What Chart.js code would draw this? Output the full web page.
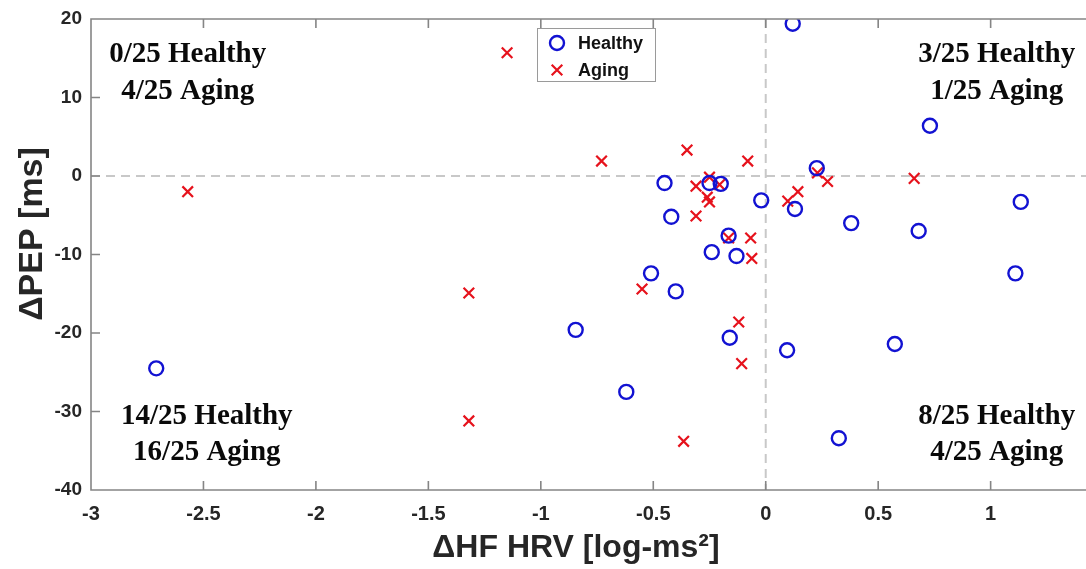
<!DOCTYPE html>
<html>
<head>
<meta charset="utf-8">
<script src="https://cdn.jsdelivr.net/npm/chart.js@4/dist/chart.umd.min.js"></script>
<style>
  html, body { margin: 0; padding: 0; background: #fff; overflow: hidden; }
  canvas { display: block; }
</style>
</head>
<body>
<canvas id="c" width="1086" height="569"></canvas>
<script>
// Change in HF HRV (log-ms²) vs change in PEP (ms) per participant
const healthyX = [0.12, 0.73, 0.227, -0.45, -0.25, -0.20, -0.02, -0.42, -0.165, -0.24, -0.13, -0.51, -0.40,
                  -0.16, 0.095, -0.845, -0.62, -2.71, 0.13, 0.38, 0.68, 1.134, 1.11, 0.574, 0.325];
const healthyY = [19.4, 6.4, 1.0, -0.9, -0.9, -1.0, -3.1, -5.2, -7.6, -9.7, -10.2, -12.4, -14.7,
                  -20.6, -22.2, -19.6, -27.5, -24.5, -4.2, -6.0, -7.0, -3.3, -12.4, -21.4, -33.4];
const agingX = [-1.15, -0.73, -0.35, -0.08, -0.25, -0.31, -0.205, -0.26, -0.25, -0.31, -0.165, -0.067, -0.062,
                -0.55, -0.12, -0.107, -1.32, -1.32, -0.365, -2.57, 0.098, 0.143, 0.23, 0.275, 0.66];
const agingY = [15.7, 1.9, 3.3, 1.9, -0.15, -1.3, -1.1, -2.7, -3.3, -5.1, -7.9, -7.9, -10.5,
                -14.4, -18.6, -23.9, -14.9, -31.2, -33.8, -2.0, -3.2, -2.0, 0.4, -0.7, -0.3];

const seriesNames = ['Healthy', 'Aging'];
const xTickValues = [-3, -2.5, -2, -1.5, -1, -0.5, 0, 0.5, 1];
const yTickValues = [-40, -30, -20, -10, 0, 10, 20];
const xTitle = 'ΔHF HRV [log-ms²]';
const yTitle = 'ΔPEP [ms]';

// Quadrant counts: [line 1, line 2]
const quadrantText = [
  ['0/25 Healthy', '4/25 Aging'],
  ['3/25 Healthy', '1/25 Aging'],
  ['14/25 Healthy', '16/25 Aging'],
  ['8/25 Healthy', '4/25 Aging']
];
// where each quadrant label sits, in axis units: [x centre, y of line 1, y of line 2]
const quadrantAnchor = [
  [-2.57, 15.5, 10.8],
  [1.027, 15.5, 10.8],
  [-2.485, -30.6, -35.2],
  [1.027, -30.6, -35.2]
];

const BLUE = '#1212d2';
const RED = '#e6121c';
const AXIS = '#858585';
const SANS = '"Liberation Sans", Arial, sans-serif';
const SERIF = '"Liberation Serif", "Times New Roman", serif';

const toPoints = (xs, ys) => xs.map((v, i) => ({ x: v, y: ys[i] }));

function markPath(ctx, style, r, cx, cy) {
  ctx.beginPath();
  if (style === 'circle') {
    ctx.arc(cx, cy, r, 0, Math.PI * 2);
  } else {
    const d = r * Math.SQRT1_2;
    ctx.moveTo(cx - d, cy - d); ctx.lineTo(cx + d, cy + d);
    ctx.moveTo(cx - d, cy + d); ctx.lineTo(cx + d, cy - d);
  }
}

const decorations = {
  id: 'decorations',
  beforeDatasetsDraw(chart) {
    const { ctx, chartArea: a, scales: { x, y } } = chart;
    const x0 = x.getPixelForValue(0);
    const y0 = y.getPixelForValue(0);
    ctx.save();
    ctx.strokeStyle = '#c8c8c8';
    ctx.lineWidth = 2;
    ctx.setLineDash([9, 6]);
    ctx.beginPath();
    ctx.moveTo(x0, a.top); ctx.lineTo(x0, a.bottom);
    ctx.moveTo(a.left, y0); ctx.lineTo(a.right, y0);
    ctx.stroke();
    ctx.restore();
  },
  afterDatasetsDraw(chart) {
    const { ctx, chartArea: a, scales: { x, y } } = chart;
    ctx.save();

    // axis box (left, top, bottom) with inward ticks
    ctx.strokeStyle = AXIS;
    ctx.lineWidth = 1.6;
    ctx.beginPath();
    ctx.moveTo(a.right + 2, a.top); ctx.lineTo(a.left, a.top);
    ctx.lineTo(a.left, a.bottom); ctx.lineTo(a.right + 2, a.bottom);
    const tl = 9;
    x.ticks.forEach(t => {
      const px = x.getPixelForValue(t.value);
      ctx.moveTo(px, a.bottom); ctx.lineTo(px, a.bottom - tl);
      ctx.moveTo(px, a.top); ctx.lineTo(px, a.top + tl);
    });
    y.ticks.forEach(t => {
      const py = y.getPixelForValue(t.value);
      ctx.moveTo(a.left, py); ctx.lineTo(a.left + tl, py);
    });
    ctx.stroke();

    // axis titles
    ctx.fillStyle = '#262626';
    ctx.font = 'bold 32px ' + SANS;
    ctx.textAlign = 'center';
    ctx.textBaseline = 'alphabetic';
    ctx.fillText(xTitle, 576, 557);
    ctx.save();
    ctx.translate(42, 234);
    ctx.rotate(-Math.PI / 2);
    ctx.font = 'bold 34px ' + SANS;
    ctx.fillText(yTitle, 0, 0);
    ctx.restore();

    // quadrant counts
    ctx.fillStyle = '#0a0a0a';
    ctx.font = 'bold 29px ' + SERIF;
    ctx.textAlign = 'center';
    ctx.textBaseline = 'middle';
    quadrantText.forEach((lines, i) => {
      const [ax, ay1, ay2] = quadrantAnchor[i];
      const px = x.getPixelForValue(ax);
      ctx.fillText(lines[0], px, y.getPixelForValue(ay1));
      ctx.fillText(lines[1], px, y.getPixelForValue(ay2));
    });

    // legend
    const lx = 537, ly = 28, lw = 118, lh = 53;
    ctx.fillStyle = '#fff';
    ctx.fillRect(lx, ly, lw, lh);
    ctx.strokeStyle = '#9a9a9a';
    ctx.lineWidth = 1;
    ctx.strokeRect(lx + 0.5, ly + 0.5, lw, lh);
    chart.data.datasets.forEach((ds, i) => {
      const cy = ly + 15 + i * 27;
      ctx.strokeStyle = ds.borderColor;
      ctx.lineWidth = ds.borderWidth;
      markPath(ctx, ds.pointStyle, ds.pointRadius, lx + 20, cy);
      ctx.stroke();
      ctx.fillStyle = '#111';
      ctx.font = 'bold 18px ' + SANS;
      ctx.textAlign = 'left';
      ctx.textBaseline = 'middle';
      ctx.fillText(ds.label, lx + 41, cy + 1);
    });

    ctx.restore();
  }
};

new Chart(document.getElementById('c'), {
  type: 'scatter',
  data: {
    datasets: [
      {
        label: seriesNames[0],
        data: toPoints(healthyX, healthyY),
        pointStyle: 'circle',
        pointRadius: 7,
        pointHoverRadius: 7,
        borderWidth: 2.4,
        borderColor: BLUE,
        backgroundColor: 'rgba(0,0,0,0)'
      },
      {
        label: seriesNames[1],
        data: toPoints(agingX, agingY),
        pointStyle: 'crossRot',
        pointRadius: 7.5,
        pointHoverRadius: 7.5,
        borderWidth: 2.2,
        borderColor: RED,
        backgroundColor: RED
      }
    ]
  },
  options: {
    responsive: false,
    animation: false,
    events: [],
    layout: { autoPadding: false, padding: { left: 0, top: 19, right: 0, bottom: 0 } },
    plugins: { legend: { display: false }, tooltip: { enabled: false } },
    scales: {
      x: {
        type: 'linear',
        min: -3,
        max: 1.424,
        grid: { display: false, drawTicks: false },
        border: { display: false },
        afterBuildTicks: s => { s.ticks = xTickValues.map(v => ({ value: v })); },
        afterFit: s => { s.height = 79; s.paddingLeft = 0; s.paddingRight = 0; },
        ticks: {
          padding: 12,
          color: '#262626',
          font: { family: SANS, size: 20, weight: 'bold' },
          maxRotation: 0,
          autoSkip: false,
          callback: v => String(v)
        }
      },
      y: {
        type: 'linear',
        min: -40,
        max: 20,
        grid: { display: false, drawTicks: false },
        border: { display: false },
        afterBuildTicks: s => { s.ticks = yTickValues.map(v => ({ value: v })); },
        afterFit: s => { s.width = 91; s.paddingTop = 0; s.paddingBottom = 0; },
        ticks: {
          padding: 9,
          color: '#262626',
          font: { family: SANS, size: 19, weight: 'bold' },
          autoSkip: false,
          callback: v => String(v)
        }
      }
    }
  },
  plugins: [decorations]
});
</script>
</body>
</html>
